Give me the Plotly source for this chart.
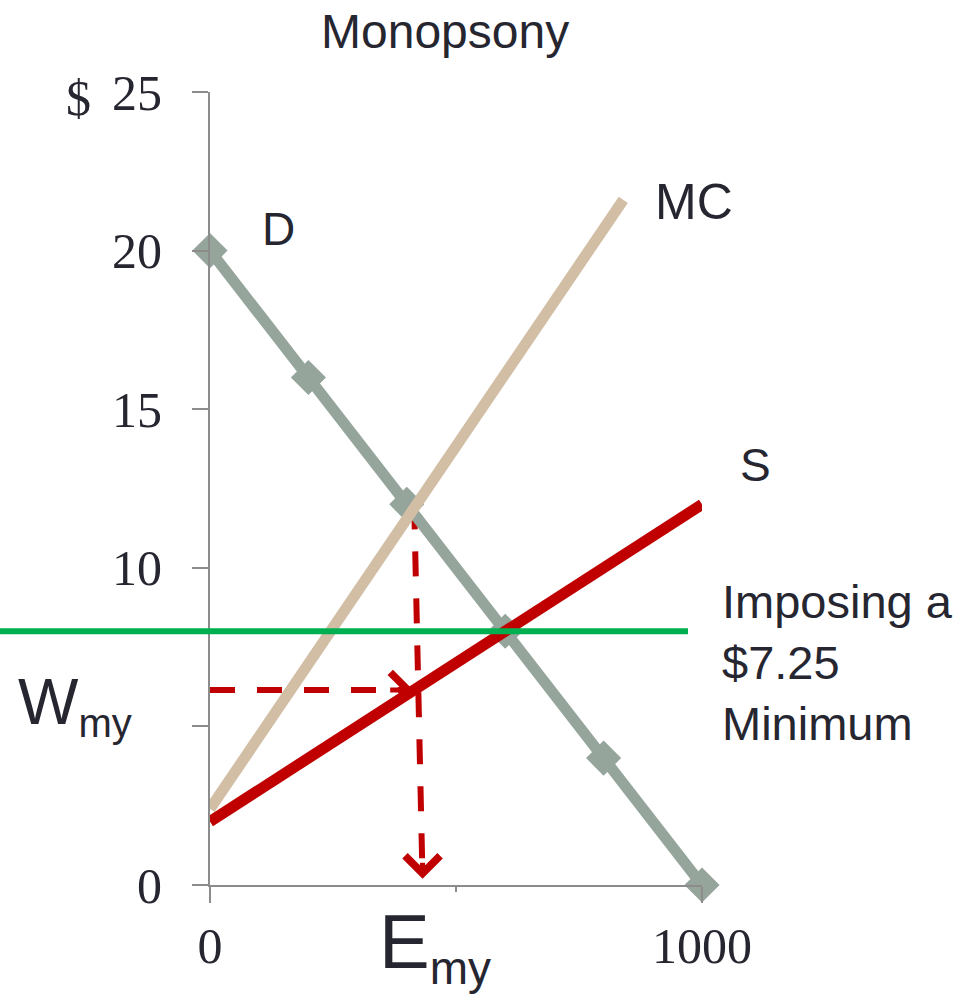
import plotly.graph_objects as go

# ---- data ----
demand_x = [0, 200, 400, 600, 800, 1000]
demand_y = [20, 16, 12, 8, 4, 0]
mc_x = [0, 840]
mc_y = [2.4, 21.6]
supply_x = [0, 1000]
supply_y = [2, 12]
min_wage_level = 8
wage_my_x = [0, 413]
wage_my_y = [6.15, 6.15]
emp_my_x = [415, 432]
emp_my_y = [12, 0.2]

y_tickvals = [0, 5, 10, 15, 20, 25]
y_ticktext = ["0", "", "10", "15", "20", "25"]
x_tickvals = [0, 1000]
x_ticktext = ["0", "1000"]

GRAY = "#95A59C"
TAN = "#D1BEA5"
RED = "#C00000"
GREEN = "#00B050"
TEXT = "#262631"
AXIS = "#8C8C8C"
SANS = "Liberation Sans, Arial, sans-serif"
SERIF = "Liberation Serif, Times New Roman, serif"

fig = go.Figure()

# dashed guide lines (beneath curves)
fig.add_trace(go.Scatter(x=wage_my_x, y=wage_my_y, mode="lines",
                         line=dict(color=RED, width=6, dash="25px,22px"),
                         hoverinfo="skip"))
fig.add_trace(go.Scatter(x=emp_my_x, y=emp_my_y, mode="lines",
                         line=dict(color=RED, width=6, dash="25px,22px"),
                         hoverinfo="skip"))

fig.add_trace(go.Scatter(x=demand_x, y=demand_y, mode="lines+markers",
                         line=dict(color=GRAY, width=11),
                         marker=dict(symbol="diamond", size=27, color=GRAY),
                         cliponaxis=False, name="D"))
fig.add_trace(go.Scatter(x=mc_x, y=mc_y, mode="lines",
                         line=dict(color=TAN, width=11), name="MC"))
fig.add_trace(go.Scatter(x=supply_x, y=supply_y, mode="lines",
                         line=dict(color=RED, width=11), name="S"))

# minimum wage line
fig.add_shape(type="line", xref="paper", yref="y",
              x0=-0.4268, x1=0.9715, y0=min_wage_level, y1=min_wage_level,
              line=dict(color=GREEN, width=6))

annos = []
# arrow heads
annos.append(dict(x=emp_my_x[1], y=emp_my_y[1], xref="x", yref="y",
                  ax=0, ay=-26, text=" ", showarrow=True, arrowhead=4,
                  arrowsize=1.35, arrowwidth=5, arrowcolor=RED))
annos.append(dict(x=wage_my_x[1], y=wage_my_y[1], xref="x", yref="y",
                  ax=-26, ay=0, text=" ", showarrow=True, arrowhead=4,
                  arrowsize=1.35, arrowwidth=5, arrowcolor=RED))

def txt(text, x, y, size, font=SANS, xanchor="center", yanchor="middle", align="center"):
    annos.append(dict(text=text, x=x, y=y, xref="paper", yref="paper",
                      showarrow=False, xanchor=xanchor, yanchor=yanchor,
                      align=align, font=dict(family=font, size=size, color=TEXT)))

txt("Monopsony", 0.478, 1.0757, 48)
txt("$", -0.268, 0.992, 50, font=SERIF)
txt("D", 0.139, 0.827, 46)
txt("MC", 0.983, 0.861, 50)
txt("S", 1.108, 0.5296, 46)
txt("Imposing a<br>$7.25<br>Minimum", 1.0366, 0.2812, 47, xanchor="left", align="left")
txt("W<sub><span style='font-size:40px'>my</span></sub>", -0.394, 0.226, 64, xanchor="left")
txt("E<sub><span style='font-size:46px'>my</span></sub>", 0.3385, -0.078, 76, xanchor="left")

fig.update_layout(
    width=975, height=1001,
    margin=dict(l=210, r=273, t=92, b=116),
    plot_bgcolor="white", paper_bgcolor="white",
    showlegend=False,
    annotations=annos,
    xaxis=dict(range=[0, 1000], showgrid=False, zeroline=False, automargin=False,
               showline=True, linecolor=AXIS, linewidth=2,
               tickmode="array", tickvals=x_tickvals, ticktext=x_ticktext,
               ticks="outside", ticklen=16, tickwidth=2, tickcolor=AXIS,
               minor=dict(dtick=500, ticks="outside", ticklen=5, tickwidth=2, tickcolor=AXIS),
               tickfont=dict(family=SERIF, size=50, color=TEXT),
               ticklabelstandoff=0),
    yaxis=dict(range=[0, 25], showgrid=False, zeroline=False, automargin=False,
               showline=True, linecolor=AXIS, linewidth=2,
               tickmode="array", tickvals=y_tickvals, ticktext=y_ticktext,
               ticks="outside", ticklen=16, tickwidth=2, tickcolor=AXIS,
               tickfont=dict(family=SERIF, size=50, color=TEXT),
               ticklabelstandoff=20),
)

fig.write_html("out.html", config={"displayModeBar": False},
               post_script="document.body.style.margin='0';")
